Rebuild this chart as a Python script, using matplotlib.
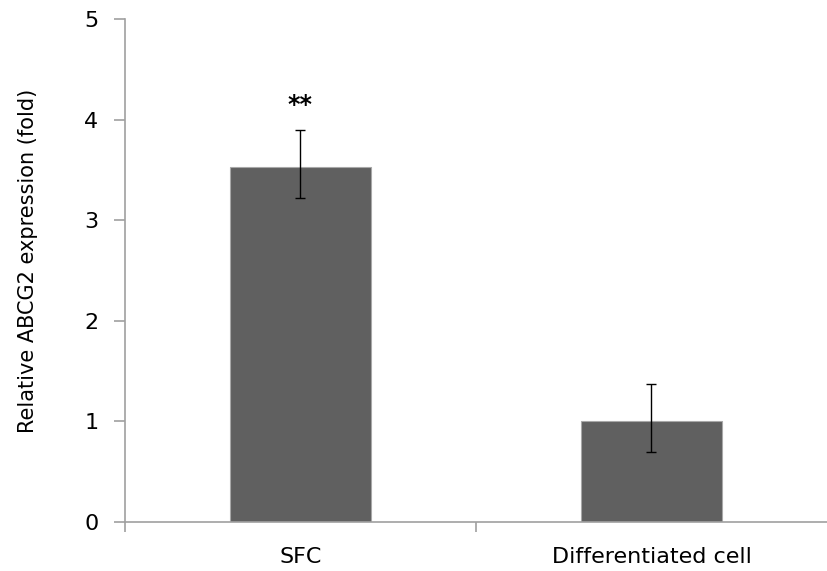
import matplotlib
matplotlib.use("Agg")
import matplotlib.pyplot as plt

categories = ["SFC", "Differentiated cell"]
values = [3.53, 1.00]
err_lower = [0.31, 0.31]
err_upper = [0.37, 0.37]
yticks = [0, 1, 2, 3, 4, 5]
annotation = "**"

plt.rcParams['font.family'] = ['DejaVu Sans']

fig = plt.figure(figsize=(8.27, 5.71), dpi=100)
ax = fig.add_axes([0.151, 0.0863, 0.849, 0.8804])

x = list(range(len(categories)))
ax.bar(x, values, width=0.4, color="#606060", edgecolor="#a8a8a8", linewidth=0.8, zorder=2)
ax.errorbar(x, values, yerr=[err_lower, err_upper], fmt="none", ecolor="black",
            elinewidth=1.0, capsize=3.5, capthick=1.0, zorder=3)
ax.text(x[0], values[0] + err_upper[0] + 0.13, annotation, ha="center", va="bottom",
        fontsize=17, fontweight="bold")

ax.set_xlim(-0.5, 1.5)
ax.set_ylim(0, 5)
ax.set_yticks(yticks)
ax.set_xticks([-0.5, 0.5], minor=False)
ax.set_xticks(x, minor=True)
ax.set_xticklabels(["", ""])
ax.set_xticklabels(categories, minor=True)
ax.tick_params(axis="x", which="minor", length=0, labelsize=16, pad=18)
ax.tick_params(axis="x", which="major", length=7, color="#a0a0a0", width=1.2)
ax.tick_params(axis="y", length=8, color="#a0a0a0", width=1.2, labelsize=16, pad=11)

for s in ["top", "right"]:
    ax.spines[s].set_visible(False)
for s in ["left", "bottom"]:
    ax.spines[s].set_color("#a0a0a0")
    ax.spines[s].set_linewidth(1.2)

ax.set_ylabel("Relative ABCG2 expression (fold)", fontsize=15)
ax.yaxis.set_label_coords(-0.124, 0.518)

fig.savefig("out.png", dpi=100)
